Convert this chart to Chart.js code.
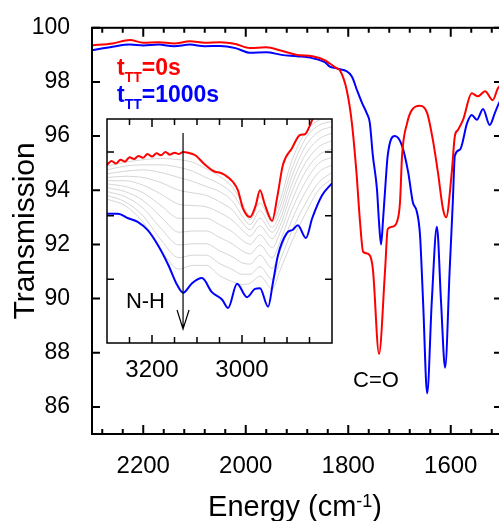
<!DOCTYPE html>
<html>
<head>
<meta charset="utf-8">
<script src="https://cdn.jsdelivr.net/npm/chart.js@4.4.1/dist/chart.umd.min.js"></script>
<style>
  html, body { margin: 0; padding: 0; background: #fff; overflow: hidden; }
  #wrap { position: relative; width: 499px; height: 521px; overflow: hidden; }
  #main { position: absolute; left: 0; top: 0; }
  #inset { position: absolute; left: 100px; top: 112px; }
</style>
</head>
<body>
<div id="wrap">
  <canvas id="main" width="510" height="521"></canvas>
  <canvas id="inset" width="240" height="280"></canvas>
</div>
<script>
// main spectra, energy in cm-1, transmission in %
const redEnergy = [2300, 2260, 2226, 2200, 2170, 2140, 2109, 2080, 2050, 2020, 1992, 1960, 1930, 1900, 1870, 1845, 1836, 1822, 1816, 1803, 1793, 1784, 1777, 1771, 1762, 1752, 1740, 1728, 1723, 1715, 1705, 1699, 1695, 1685, 1676, 1660, 1646, 1635, 1625, 1615, 1609, 1598, 1592, 1586, 1576, 1559, 1547, 1533, 1518, 1508, 1500];
const redTrans = [99.35, 99.42, 99.55, 99.45, 99.47, 99.42, 99.50, 99.45, 99.47, 99.40, 99.25, 99.28, 99.15, 99.00, 98.95, 98.80, 98.68, 98.50, 98.42, 97.70, 96.50, 94.66, 92.83, 91.73, 91.66, 91.10, 87.96, 91.10, 92.57, 92.65, 92.83, 93.56, 95.28, 96.49, 96.96, 97.12, 96.85, 95.87, 94.66, 93.30, 93.00, 94.66, 96.00, 96.23, 96.60, 97.58, 97.47, 97.66, 97.33, 97.77, 97.90];

const blueEnergy = [2300, 2260, 2226, 2200, 2170, 2140, 2109, 2080, 2050, 2020, 1992, 1960, 1930, 1900, 1870, 1845, 1836, 1822, 1793, 1783, 1773, 1764, 1758, 1752, 1744, 1740, 1736, 1732, 1728, 1723, 1709, 1695, 1683, 1674, 1666, 1660, 1654, 1646, 1637, 1627, 1619, 1611, 1602, 1596, 1592, 1582, 1568, 1559, 1549, 1537, 1524, 1514, 1506, 1500];
const blueTrans = [99.17, 99.30, 99.38, 99.35, 99.38, 99.32, 99.38, 99.32, 99.33, 99.25, 99.08, 99.10, 99.00, 98.95, 98.88, 98.72, 98.57, 98.50, 98.20, 97.70, 97.22, 96.85, 96.50, 95.28, 94.04, 92.83, 92.00, 92.94, 94.04, 95.28, 96.00, 95.64, 94.66, 93.56, 93.20, 92.35, 89.90, 86.50, 89.90, 92.65, 89.90, 87.45, 91.10, 93.56, 95.28, 95.50, 96.49, 96.78, 96.60, 97.00, 96.41, 96.85, 97.22, 97.40];

const xTicks = [2200, 2000, 1800, 1600];
const yTicks = [86, 88, 90, 92, 94, 96, 98, 100];
const legendTails = ['=0s', '=1000s'];

// inset: N-H region, arbitrary vertical units
const insetRedEnergy = [3300, 3290, 3280, 3270, 3260, 3250, 3240, 3230, 3220, 3210, 3200, 3190, 3180, 3170, 3160, 3150, 3140, 3131, 3120, 3104, 3082, 3060, 3050, 3038, 3020, 3009, 2998, 2982, 2970, 2960, 2949, 2933, 2922, 2909, 2889, 2871, 2860, 2849, 2840, 2830];
const insetRed = [2.80, 2.86, 2.82, 2.88, 2.85, 2.92, 2.89, 2.94, 2.91, 2.97, 2.93, 2.98, 2.95, 3.00, 2.96, 2.99, 2.97, 3.00, 2.99, 2.95, 2.80, 2.69, 2.68, 2.64, 2.53, 2.40, 2.12, 1.98, 2.15, 2.40, 2.17, 1.92, 2.28, 2.80, 3.06, 3.27, 3.28, 3.42, 3.58, 3.75];

const insetBlueEnergy = [3300, 3276, 3253, 3231, 3209, 3187, 3164, 3144, 3131, 3111, 3089, 3067, 3044, 3031, 3011, 2989, 2971, 2960, 2942, 2931, 2920, 2900, 2887, 2876, 2858, 2844, 2822, 2800];
const insetBlue = [2.03, 2.03, 1.96, 1.90, 1.77, 1.54, 1.23, 0.91, 0.79, 0.94, 1.02, 0.80, 0.68, 0.55, 0.93, 0.72, 0.85, 0.86, 0.57, 0.96, 1.38, 1.73, 1.78, 1.85, 1.65, 1.96, 2.32, 2.51];

const grayEnergy = [3300, 3260, 3220, 3180, 3140, 3110, 3080, 3050, 3020, 3000, 2982, 2960, 2933, 2915, 2890, 2860, 2830, 2800];
const grayRuns = [
  [2.78, 2.84, 2.88, 2.90, 2.88, 2.84, 2.74, 2.62, 2.44, 2.20, 2.00, 2.30, 1.97, 2.25, 2.85, 3.30, 3.50, 3.55],
  [2.72, 2.78, 2.80, 2.80, 2.76, 2.70, 2.60, 2.50, 2.34, 2.12, 1.94, 2.20, 1.90, 2.15, 2.72, 3.20, 3.42, 3.48],
  [2.66, 2.70, 2.72, 2.68, 2.60, 2.54, 2.46, 2.38, 2.22, 2.00, 1.86, 2.08, 1.82, 2.05, 2.60, 3.08, 3.32, 3.40],
  [2.60, 2.62, 2.60, 2.52, 2.40, 2.36, 2.32, 2.22, 2.08, 1.90, 1.78, 1.96, 1.74, 1.95, 2.48, 2.95, 3.20, 3.30],
  [2.55, 2.55, 2.48, 2.34, 2.18, 2.16, 2.14, 2.05, 1.92, 1.78, 1.68, 1.84, 1.64, 1.85, 2.36, 2.82, 3.08, 3.18],
  [2.50, 2.46, 2.36, 2.16, 1.96, 1.96, 1.96, 1.86, 1.74, 1.62, 1.55, 1.70, 1.50, 1.74, 2.22, 2.68, 2.95, 3.05],
  [2.44, 2.38, 2.24, 1.98, 1.74, 1.76, 1.76, 1.66, 1.55, 1.45, 1.40, 1.54, 1.34, 1.60, 2.08, 2.52, 2.82, 2.92],
  [2.38, 2.30, 2.12, 1.80, 1.54, 1.56, 1.56, 1.45, 1.35, 1.26, 1.24, 1.38, 1.17, 1.45, 1.92, 2.36, 2.68, 2.80],
  [2.32, 2.22, 2.00, 1.62, 1.34, 1.38, 1.38, 1.25, 1.15, 1.08, 1.08, 1.20, 1.00, 1.30, 1.75, 2.18, 2.52, 2.68],
  [2.26, 2.16, 1.90, 1.46, 1.16, 1.22, 1.22, 1.06, 0.96, 0.92, 0.94, 1.05, 0.85, 1.15, 1.58, 2.02, 2.40, 2.58]
];
const insetXTicks = [3200, 3000];

// annotation anchors (data coordinates)
const coLabel = { x: 1746, y: 86.72 };
const arrowAt = { x: 3131, top: 3.30, bottom: 0.22 };
const nhLabel = { x: 3258, y: 0.55 };

const FONT = '"Liberation Sans", Arial, sans-serif';
const RED = '#ff0000';
const BLUE = '#0000ff';
Chart.defaults.font.family = FONT;
Chart.defaults.color = '#000';

const pairs = (xs, ys) => xs.map((v, i) => ({ x: v, y: ys[i] }));

function drawSubLabel(ctx, x, y, color, tail) {
  ctx.fillStyle = color;
  ctx.textAlign = 'left';
  ctx.textBaseline = 'alphabetic';
  ctx.font = 'bold 23px ' + FONT;
  ctx.fillText('t', x, y);
  let w = ctx.measureText('t').width;
  ctx.font = 'bold 14px ' + FONT;
  ctx.fillText('TT', x + w, y + 7);
  w += ctx.measureText('TT').width;
  ctx.font = 'bold 23px ' + FONT;
  ctx.fillText(tail, x + w, y);
}

const mainDecor = {
  id: 'mainDecor',
  afterDraw(chart) {
    const { ctx, chartArea: a, scales: { x, y } } = chart;
    ctx.save();
    ctx.strokeStyle = '#000';
    ctx.lineWidth = 2;
    ctx.strokeRect(a.left, a.top, a.right - a.left, a.bottom - a.top);
    ctx.beginPath();
    for (let v = 1520; v < 2300; v += 40) {
      const px = x.getPixelForValue(v);
      const len = v % 200 === 0 ? 9 : 5;
      ctx.moveTo(px, a.bottom); ctx.lineTo(px, a.bottom - len);
      ctx.moveTo(px, a.top); ctx.lineTo(px, a.top + len);
    }
    yTicks.forEach(v => {
      const py = y.getPixelForValue(v);
      ctx.moveTo(a.left, py); ctx.lineTo(a.left + 8, py);
      ctx.moveTo(a.right, py); ctx.lineTo(a.right - 8, py);
    });
    ctx.stroke();

    // legend text
    drawSubLabel(ctx, a.left + 25, a.top + 47, RED, legendTails[0]);
    drawSubLabel(ctx, a.left + 25, a.top + 74, BLUE, legendTails[1]);

    // C=O
    ctx.fillStyle = '#000';
    ctx.font = '22px ' + FONT;
    ctx.textAlign = 'center';
    ctx.fillText('C=O', x.getPixelForValue(coLabel.x), y.getPixelForValue(coLabel.y));

    // x title with superscript
    const cx = (a.left + a.right) / 2 - 2;
    ctx.font = '29px ' + FONT;
    const w1 = ctx.measureText('Energy (cm').width;
    const w3 = ctx.measureText(')').width;
    ctx.font = '18px ' + FONT;
    const w2 = ctx.measureText('-1').width;
    let sx = cx - (w1 + w2 + w3) / 2;
    ctx.textAlign = 'left';
    ctx.font = '29px ' + FONT;
    ctx.fillText('Energy (cm', sx, 516);
    ctx.font = '18px ' + FONT;
    ctx.fillText('-1', sx + w1, 507);
    ctx.font = '29px ' + FONT;
    ctx.fillText(')', sx + w1 + w2, 516);

    // y title
    ctx.translate(34, (a.top + a.bottom) / 2);
    ctx.rotate(-Math.PI / 2);
    ctx.textAlign = 'center';
    ctx.font = '30px ' + FONT;
    ctx.fillText('Transmission', 0, 0);
    ctx.restore();
  }
};

new Chart(document.getElementById('main'), {
  type: 'line',
  data: {
    datasets: [
      { data: pairs(redEnergy, redTrans), borderColor: RED, borderWidth: 2 },
      { data: pairs(blueEnergy, blueTrans), borderColor: BLUE, borderWidth: 2 }
    ]
  },
  options: {
    responsive: false,
    animation: false,
    devicePixelRatio: 1,
    layout: { padding: { top: 24, right: 8, left: 0, bottom: 0 } },
    elements: { point: { radius: 0 }, line: { cubicInterpolationMode: 'monotone', fill: false } },
    plugins: { legend: { display: false }, tooltip: { enabled: false } },
    scales: {
      x: {
        type: 'linear', reverse: true, min: 1500, max: 2300,
        grid: { display: false }, border: { display: false },
        afterBuildTicks: s => { s.ticks = xTicks.map(v => ({ value: v })); },
        afterFit: s => { s.height = 87; },
        ticks: { font: { size: 24 }, padding: 10, maxRotation: 0, autoSkip: false, callback: v => String(v) }
      },
      y: {
        min: 85, max: 100,
        grid: { display: false }, border: { display: false },
        afterBuildTicks: s => { s.ticks = yTicks.map(v => ({ value: v })); },
        afterFit: s => { s.width = 92; },
        ticks: { font: { size: 23 }, padding: 14, callback: v => String(v) }
      }
    }
  },
  plugins: [mainDecor]
});

const insetDecor = {
  id: 'insetDecor',
  beforeDraw(chart) {
    const { ctx, chartArea: a } = chart;
    ctx.save();
    ctx.fillStyle = '#fff';
    ctx.fillRect(a.left, a.top, a.right - a.left, a.bottom - a.top);
    ctx.restore();
  },
  afterDraw(chart) {
    const { ctx, chartArea: a, scales: { x, y } } = chart;
    ctx.save();
    ctx.strokeStyle = '#000';
    ctx.lineWidth = 1.5;
    ctx.strokeRect(a.left, a.top, a.right - a.left, a.bottom - a.top);
    ctx.beginPath();
    for (let v = 2850; v < 3300; v += 50) {
      const px = x.getPixelForValue(v);
      const len = v % 200 === 0 ? 8 : 6;
      ctx.moveTo(px, a.bottom); ctx.lineTo(px, a.bottom - len);
      ctx.moveTo(px, a.top); ctx.lineTo(px, a.top + len);
    }
    [1, 2, 3].forEach(v => {
      const py = y.getPixelForValue(v);
      ctx.moveTo(a.left, py); ctx.lineTo(a.left + 7, py);
      ctx.moveTo(a.right, py); ctx.lineTo(a.right - 7, py);
    });
    ctx.stroke();

    // N-H arrow
    const ax = x.getPixelForValue(arrowAt.x);
    const ay0 = y.getPixelForValue(arrowAt.top);
    const ay1 = y.getPixelForValue(arrowAt.bottom);
    ctx.lineWidth = 1.2;
    ctx.beginPath();
    ctx.moveTo(ax, ay0); ctx.lineTo(ax, ay1);
    ctx.moveTo(ax - 6, ay1 - 19); ctx.lineTo(ax, ay1); ctx.lineTo(ax + 6, ay1 - 19);
    ctx.stroke();

    ctx.fillStyle = '#000';
    ctx.font = '22px ' + FONT;
    ctx.textAlign = 'left';
    ctx.fillText('N-H', x.getPixelForValue(nhLabel.x), y.getPixelForValue(nhLabel.y));
    ctx.restore();
  }
};

const grayDatasets = grayRuns.map(run => ({
  data: pairs(grayEnergy, run),
  borderColor: 'rgba(160,160,160,0.55)',
  borderWidth: 0.8,
  order: 1
}));

new Chart(document.getElementById('inset'), {
  type: 'line',
  data: {
    datasets: [
      { data: pairs(insetRedEnergy, insetRed), borderColor: RED, borderWidth: 2, order: 0 },
      { data: pairs(insetBlueEnergy, insetBlue), borderColor: BLUE, borderWidth: 2, order: 0 },
      ...grayDatasets
    ]
  },
  options: {
    responsive: false,
    animation: false,
    devicePixelRatio: 1,
    layout: { padding: { top: 7, right: 8, left: 7, bottom: 0 } },
    elements: { point: { radius: 0 }, line: { cubicInterpolationMode: 'monotone', fill: false } },
    plugins: { legend: { display: false }, tooltip: { enabled: false } },
    scales: {
      x: {
        type: 'linear', reverse: true, min: 2800, max: 3300,
        grid: { display: false }, border: { display: false },
        afterBuildTicks: s => { s.ticks = insetXTicks.map(v => ({ value: v })); },
        afterFit: s => { s.height = 49; },
        ticks: { font: { size: 24 }, padding: 5, maxRotation: 0, autoSkip: false, callback: v => String(v) }
      },
      y: { display: false, min: 0, max: 3.52 }
    }
  },
  plugins: [insetDecor]
});
</script>
</body>
</html>
